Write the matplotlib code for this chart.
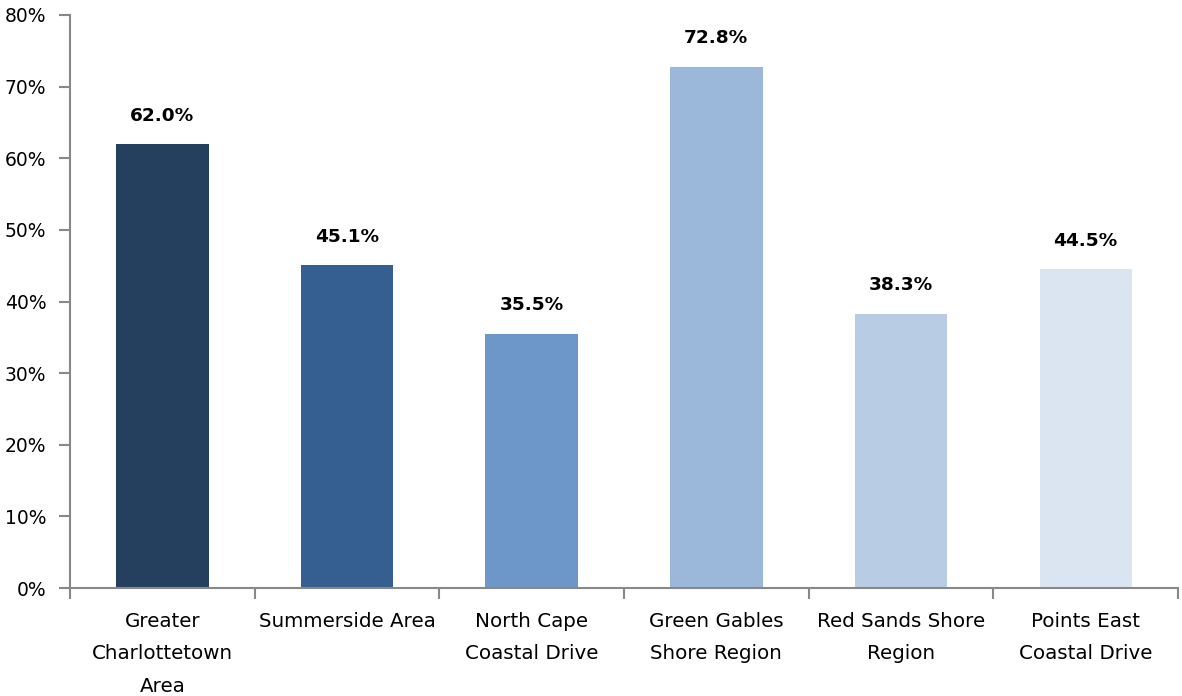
import matplotlib
matplotlib.use("Agg")
import matplotlib.pyplot as plt
import numpy as np
from matplotlib.ticker import FuncFormatter, FixedLocator

regions = ["Greater\nCharlottetown\nArea", "Summerside Area", "North Cape\nCoastal Drive",
           "Green Gables\nShore Region", "Red Sands Shore\nRegion", "Points East\nCoastal Drive"]
shares = [62.0, 45.1, 35.5, 72.8, 38.3, 44.5]
colors = ["#253F5E", "#365F91", "#6C97C8", "#9BB7DA", "#B8CCE4", "#DBE5F1"]

fig = plt.figure(figsize=(11.82, 6.96), dpi=100)
ax = fig.add_axes([70 / 1182, 1 - 588 / 696, 1108 / 1182, 573 / 696])

x = np.arange(len(regions))
bars = ax.bar(x, shares, width=0.5, color=colors)

for xi, v in zip(x, shares):
    ax.text(xi, v + 2.7, "%.1f%%" % v, ha="center", va="bottom",
            fontsize=13.3, fontweight="bold", color="black")

ax.set_xlim(-0.5, len(regions) - 0.5)
ax.set_ylim(0, 80)
ax.set_yticks(np.arange(0, 81, 10))
ax.yaxis.set_major_formatter(FuncFormatter(lambda v, p: "%d%%" % v))

ax.set_xticks(x)
ax.set_xticklabels(regions, fontsize=14.3, linespacing=1.9)
ax.xaxis.set_minor_locator(FixedLocator(np.arange(-0.5, len(regions), 1.0)))
ax.tick_params(axis="x", which="major", length=0, pad=17)
ax.tick_params(axis="x", which="minor", length=8, width=1.5, color="#888888", direction="out")
ax.tick_params(axis="y", length=8, width=1.5, color="#888888", labelsize=13.5, pad=9)

for s in ["top", "right"]:
    ax.spines[s].set_visible(False)
for s in ["left", "bottom"]:
    ax.spines[s].set_color("#888888")
    ax.spines[s].set_linewidth(1.5)

fig.savefig("out.png", dpi=100)
